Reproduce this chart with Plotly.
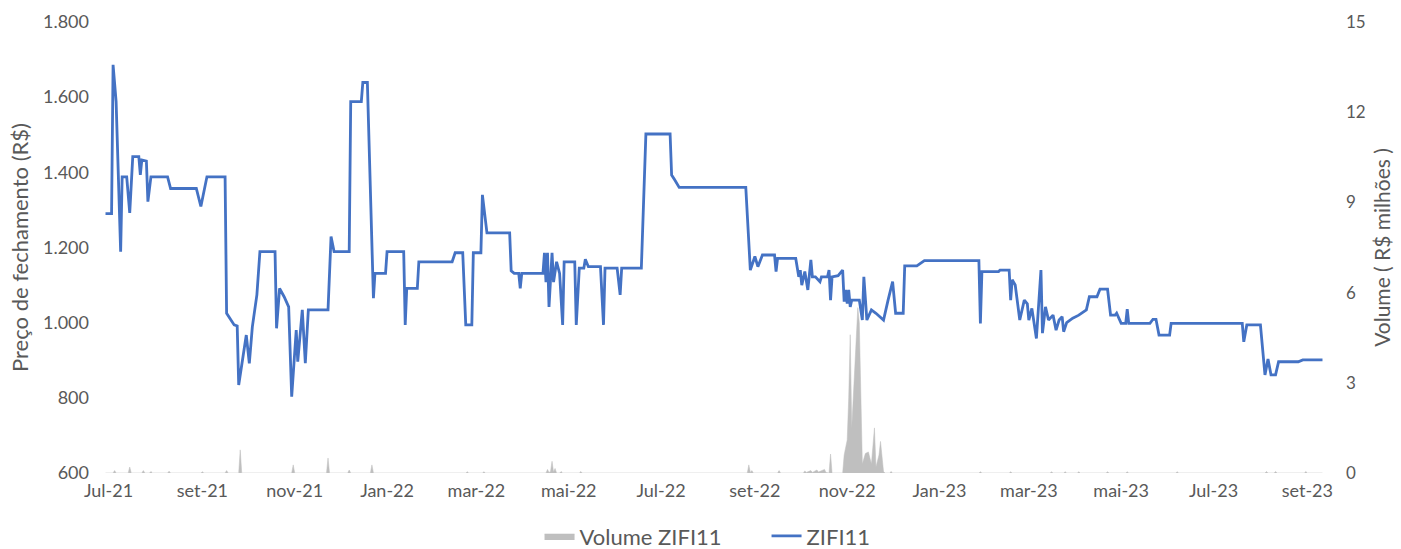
import plotly.graph_objects as go

price_dates = [
    "2021-06-29", "2021-07-03", "2021-07-04", "2021-07-06", "2021-07-09", "2021-07-10", "2021-07-13", "2021-07-15", "2021-07-17", "2021-07-21",
    "2021-07-22", "2021-07-23", "2021-07-26", "2021-07-27", "2021-07-29", "2021-08-09", "2021-08-11", "2021-08-28", "2021-08-31", "2021-09-04",
    "2021-09-16", "2021-09-17", "2021-09-22", "2021-09-24", "2021-09-25", "2021-09-30", "2021-10-02", "2021-10-04", "2021-10-07", "2021-10-09",
    "2021-10-19", "2021-10-20", "2021-10-22", "2021-10-25", "2021-10-28", "2021-10-30", "2021-11-02", "2021-11-03", "2021-11-06", "2021-11-08",
    "2021-11-10", "2021-11-23", "2021-11-25", "2021-11-27", "2021-12-07", "2021-12-08", "2021-12-15", "2021-12-16", "2021-12-19", "2021-12-23",
    "2021-12-24", "2021-12-31", "2022-01-01", "2022-01-12", "2022-01-13", "2022-01-14", "2022-01-21", "2022-01-22", "2022-02-13", "2022-02-15",
    "2022-02-20", "2022-02-22", "2022-02-26", "2022-02-27", "2022-03-04", "2022-03-05", "2022-03-08", "2022-03-23", "2022-03-24", "2022-03-26",
    "2022-03-29", "2022-03-30", "2022-03-31", "2022-04-14", "2022-04-15", "2022-04-16", "2022-04-17", "2022-04-18", "2022-04-20", "2022-04-21",
    "2022-04-23", "2022-04-25", "2022-04-27", "2022-04-28", "2022-05-05", "2022-05-06", "2022-05-08", "2022-05-11", "2022-05-12", "2022-05-14",
    "2022-05-22", "2022-05-24", "2022-05-25", "2022-06-02", "2022-06-04", "2022-06-05", "2022-06-18", "2022-06-21", "2022-07-07", "2022-07-08",
    "2022-07-10", "2022-07-13", "2022-08-26", "2022-08-29", "2022-09-01", "2022-09-03", "2022-09-06", "2022-09-14", "2022-09-15", "2022-09-16",
    "2022-09-28", "2022-09-30", "2022-10-01", "2022-10-02", "2022-10-04", "2022-10-06", "2022-10-08", "2022-10-09", "2022-10-11", "2022-10-14",
    "2022-10-15", "2022-10-19", "2022-10-20", "2022-10-21", "2022-10-22", "2022-10-26", "2022-10-29", "2022-10-30", "2022-10-31", "2022-11-01",
    "2022-11-02", "2022-11-03", "2022-11-04", "2022-11-07", "2022-11-09", "2022-11-11", "2022-11-12", "2022-11-14", "2022-11-17", "2022-11-20",
    "2022-11-25", "2022-11-28", "2022-12-01", "2022-12-03", "2022-12-08", "2022-12-09", "2022-12-17", "2022-12-22", "2023-01-27", "2023-01-28",
    "2023-01-29", "2023-02-09", "2023-02-10", "2023-02-16", "2023-02-17", "2023-02-18", "2023-02-20", "2023-02-23", "2023-02-26", "2023-02-28",
    "2023-03-01", "2023-03-03", "2023-03-06", "2023-03-09", "2023-03-10", "2023-03-12", "2023-03-14", "2023-03-17", "2023-03-19", "2023-03-21",
    "2023-03-23", "2023-03-24", "2023-03-26", "2023-03-30", "2023-04-03", "2023-04-08", "2023-04-10", "2023-04-15", "2023-04-17", "2023-04-22",
    "2023-04-24", "2023-04-27", "2023-04-28", "2023-05-01", "2023-05-04", "2023-05-05", "2023-05-06", "2023-05-20", "2023-05-22", "2023-05-24",
    "2023-05-26", "2023-06-02", "2023-06-03", "2023-07-20", "2023-07-21", "2023-07-23", "2023-08-01", "2023-08-04", "2023-08-06", "2023-08-08",
    "2023-08-11", "2023-08-13", "2023-08-26", "2023-08-29", "2023-09-11",
]

price_values = [
    1290, 1290, 1686, 1588, 1189, 1388, 1388, 1292, 1442, 1442,
    1393, 1433, 1430, 1322, 1388, 1388, 1357, 1357, 1309, 1388,
    1388, 1025, 994, 991, 834, 967, 892, 989, 1074, 1189,
    1189, 985, 1091, 1069, 1042, 803, 980, 896, 1034, 892,
    1034, 1034, 1229, 1189, 1189, 1588, 1588, 1639, 1639, 1065,
    1131, 1131, 1189, 1189, 994, 1091, 1091, 1162, 1162, 1186,
    1186, 994, 994, 1186, 1186, 1340, 1239, 1239, 1138, 1131,
    1131, 1091, 1131, 1131, 1186, 1108, 1186, 1042, 1186, 1108,
    1162, 1131, 994, 1162, 1162, 994, 1145, 1145, 1169, 1149,
    1149, 994, 1145, 1145, 1074, 1145, 1145, 1502, 1502, 1393,
    1380, 1360, 1360, 1140, 1176, 1149, 1180, 1180, 1136, 1171,
    1171, 1122, 1140, 1100, 1136, 1087, 1167, 1122, 1122, 1109,
    1122, 1122, 1140, 1060, 1122, 1125, 1140, 1056, 1087, 1051,
    1087, 1042, 1060, 1060, 1060, 1007, 1122, 1007, 1034, 1025,
    1007, 1060, 1109, 1025, 1025, 1151, 1151, 1165, 1165, 998,
    1136, 1136, 1140, 1140, 1060, 1114, 1100, 1007, 1060, 1050,
    1007, 1038, 958, 1140, 972, 1042, 1007, 1020, 980, 1007,
    1016, 976, 1000, 1012, 1020, 1034, 1069, 1069, 1089, 1089,
    1020, 1020, 1025, 998, 998, 1036, 998, 998, 1009, 1009,
    967, 967, 998, 998, 949, 994, 994, 861, 903, 861,
    861, 896, 896, 901, 901,
]

vol_dates = [
    "2021-06-29",
    "2021-07-04", "2021-07-05", "2021-07-06",
    "2021-07-14", "2021-07-15", "2021-07-16",
    "2021-07-23", "2021-07-24", "2021-07-25",
    "2021-07-28", "2021-07-29", "2021-07-30",
    "2021-08-09", "2021-08-10", "2021-08-11",
    "2021-08-31", "2021-09-01", "2021-09-02",
    "2021-09-16", "2021-09-17", "2021-09-18",
    "2021-09-25", "2021-09-26", "2021-09-27",
    "2021-10-30", "2021-10-31", "2021-11-01",
    "2021-11-22", "2021-11-23", "2021-11-24",
    "2021-12-06", "2021-12-07", "2021-12-08",
    "2021-12-21", "2021-12-22", "2021-12-23",
    "2022-02-22", "2022-02-23", "2022-02-24",
    "2022-03-05", "2022-03-06", "2022-03-07",
    "2022-04-16", "2022-04-17", "2022-04-18", "2022-04-19", "2022-04-20", "2022-04-21", "2022-04-22", "2022-04-23",
    "2022-04-25", "2022-04-26", "2022-04-27",
    "2022-05-08", "2022-05-09", "2022-05-10",
    "2022-08-27", "2022-08-28", "2022-08-29", "2022-08-30", "2022-08-31",
    "2022-09-16", "2022-09-17", "2022-09-18",
    "2022-10-03", "2022-10-04", "2022-10-05", "2022-10-08", "2022-10-09", "2022-10-12", "2022-10-13",
    "2022-10-17", "2022-10-18", "2022-10-20", "2022-10-21", "2022-10-22",
    "2022-10-29", "2022-10-30", "2022-11-01", "2022-11-02", "2022-11-03", "2022-11-04", "2022-11-06",
    "2022-11-07", "2022-11-08", "2022-11-09", "2022-11-10", "2022-11-11", "2022-11-13", "2022-11-15",
    "2022-11-17", "2022-11-19", "2022-11-20", "2022-11-22", "2022-11-23", "2022-11-25", "2022-11-26",
    "2022-11-29", "2022-11-30", "2022-12-01",
    "2023-01-27", "2023-01-28", "2023-01-29",
    "2023-02-16", "2023-02-17", "2023-02-18",
    "2023-03-15", "2023-03-16", "2023-03-17",
    "2023-03-24", "2023-03-25", "2023-03-26",
    "2023-04-02", "2023-04-03", "2023-04-04",
    "2023-04-21", "2023-04-22", "2023-04-23",
    "2023-05-04", "2023-05-05", "2023-05-06",
    "2023-06-06", "2023-06-07", "2023-06-08",
    "2023-08-04", "2023-08-05", "2023-08-06",
    "2023-08-10", "2023-08-11", "2023-08-12",
    "2023-08-30", "2023-08-31", "2023-09-01",
    "2023-09-11",
]

vol_values = [
    0,
    0, 0.08, 0,
    0, 0.20, 0,
    0, 0.08, 0,
    0, 0.05, 0,
    0, 0.06, 0,
    0, 0.04, 0,
    0, 0.08, 0,
    0, 0.77, 0,
    0, 0.27, 0,
    0, 0.50, 0,
    0, 0.10, 0,
    0, 0.27, 0,
    0, 0.04, 0,
    0, 0.04, 0,
    0, 0.12, 0.02, 0.05, 0.39, 0.03, 0.15, 0,
    0, 0.05, 0,
    0, 0.05, 0,
    0, 0.27, 0.02, 0.08, 0,
    0, 0.08, 0,
    0, 0.07, 0.02, 0.08, 0.02, 0.10, 0.03,
    0.12, 0.02, 0, 0.63, 0,
    0, 0.60, 1.10, 2.50, 4.60, 1.50, 3.50,
    4.20, 5.50, 5.00, 2.00, 0.30, 0.65, 0.70,
    0.30, 1.50, 0.20, 0.60, 1.05, 0.05, 0,
    0, 0.05, 0,
    0, 0.04, 0,
    0, 0.04, 0,
    0, 0.04, 0,
    0, 0.04, 0,
    0, 0.04, 0,
    0, 0.04, 0,
    0, 0.04, 0,
    0, 0.04, 0,
    0, 0.05, 0,
    0, 0.05, 0,
    0, 0.05, 0,
    0,
]

x_tick_dates = [
    "2021-07-01", "2021-09-01", "2021-11-01", "2022-01-01", "2022-03-01", "2022-05-01", "2022-07-01",
    "2022-09-01", "2022-11-01", "2023-01-01", "2023-03-01", "2023-05-01", "2023-07-01", "2023-09-01",
]
x_tick_labels = [
    "Jul-21", "set-21", "nov-21", "Jan-22", "mar-22", "mai-22", "Jul-22",
    "set-22", "nov-22", "Jan-23", "mar-23", "mai-23", "Jul-23", "set-23",
]
price_ticks = [600, 800, 1000, 1200, 1400, 1600, 1800]
price_tick_labels = ["600", "800", "1.000", "1.200", "1.400", "1.600", "1.800"]
vol_ticks = [0, 3, 6, 9, 12, 15]

FONT = "Lato, 'Open Sans', sans-serif"
GREY = "#595959"

fig = go.Figure()
fig.add_trace(go.Scatter(
    x=vol_dates, y=vol_values, name="Volume ZIFI11", mode="lines",
    line=dict(width=0.5, color="#BFBFBF"), fill="tozeroy", fillcolor="#BFBFBF",
    yaxis="y",
))
fig.add_trace(go.Scatter(
    x=price_dates, y=price_values, name="ZIFI11", mode="lines",
    line=dict(color="#4472C4", width=2.8),
    yaxis="y2",
))

fig.update_layout(
    width=1401, height=549,
    margin=dict(l=104, r=77, t=22, b=76, autoexpand=False),
    paper_bgcolor="white", plot_bgcolor="white",
    font=dict(family=FONT, color=GREY, size=14),
    showlegend=True,
    legend=dict(
        orientation="h", x=0.357, xanchor="left", y=-0.14, yanchor="middle",
        font=dict(size=22, color=GREY), traceorder="normal",
        entrywidth=182, entrywidthmode="pixels",
    ),
    xaxis=dict(
        type="date", range=["2021-06-28", "2023-09-12"], automargin=False,
        tickvals=x_tick_dates, ticktext=x_tick_labels,
        showgrid=False, showline=False, zeroline=False, ticks="",
        tickfont=dict(size=18, color=GREY), ticklabelstandoff=5,
    ),
    yaxis=dict(
        side="right", range=[0, 15], tickvals=vol_ticks, automargin=False,
        showgrid=False, showline=False, zeroline=False, ticks="",
        tickfont=dict(size=17, color=GREY), ticklabelstandoff=21,
        title=dict(text="Volume ( R$ milhões )", font=dict(size=21, color=GREY), standoff=10),
    ),
    yaxis2=dict(
        overlaying="y", side="left", range=[600, 1800], automargin=False,
        tickvals=price_ticks, ticktext=price_tick_labels,
        showgrid=False, showline=False, zeroline=False, ticks="",
        tickfont=dict(size=18, color=GREY), ticklabelstandoff=14,
        title=dict(text="Preço de fechamento (R$)", font=dict(size=22, color=GREY), standoff=8),
    ),
)

fig.write_html(
    "out.html",
    config={"displayModeBar": False},
    post_script="document.body.style.margin='0';document.body.style.overflow='hidden';",
)
